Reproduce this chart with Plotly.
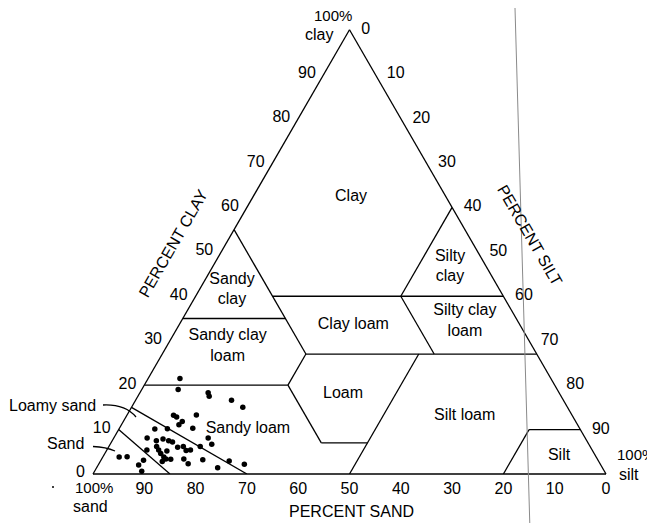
import plotly.graph_objects as go

W, H = 655, 523
OFF = 8  # page body margin offset of the embedded figure
FONT = "Liberation Sans, Arial, Helvetica, sans-serif"
FS = 16

# ---------------- tick labels ----------------
clay_tick_vals = [0, 10, 20, 30, 40, 50, 60, 70, 80, 90]
sand_tick_vals = [90, 80, 70, 60, 50, 40, 30, 20, 10, 0]
silt_tick_vals = [0, 10, 20, 30, 40, 50, 60, 70, 80, 90]

# ---------------- texture-class boundaries (percent sand / percent clay) ----------------
boundary_sand = [[85, 90], [70, 85], [80, 52], [52, 52], [52, 43], [50, 23], [45, 0],
                 [52, 45], [45, 45], [65, 45], [45, 0], [20, 0], [20, 20], [20, 10], [10, 0]]
boundary_clay = [[0, 10], [0, 15], [20, 20], [20, 7], [7, 7], [0, 27], [27, 27],
                 [20, 27], [55, 27], [35, 35], [40, 40], [40, 60], [40, 27], [0, 10], [10, 10]]

# ---------------- texture-class names ----------------
class_names = ["Clay", "Sandy<br>clay", "Silty<br>clay", "Sandy clay<br>loam", "Clay loam",
               "Silty clay<br>loam", "Loam", "Sandy loam", "Silt loam", "Silt"]
class_label_sand = [18.5, 52.2, 7.1, 59.4, 32.5, 10.3, 42.2, 64.7, 21.0, 7.1]
class_label_clay = [62.4, 41.4, 46.6, 28.7, 33.5, 34.4, 18.1, 10.2, 13.1, 4.1]

# ---------------- soil samples (percent sand / percent clay) ----------------
sample_sand = [72.3, 73.9, 68.4, 68.6, 64.7, 63.3, 77.7, 77.3, 73.2, 76.7,
               77.7, 75.4, 80.4, 82.9, 85.4, 82.4, 81.5, 80.9, 73.5, 73.5,
               76.0, 83.9, 84.5, 84.5, 84.5, 84.3, 80.5, 79.3, 79.2, 78.3,
               86.8, 83.0, 84.1, 83.2, 80.6, 80.3, 77.0, 88.6, 93.0, 91.4,
               90.1, 90.2, 75.0, 72.0, 69.4, 85.1]
sample_clay = [21.5, 19.0, 18.3, 17.5, 16.6, 15.0, 13.2, 12.8, 13.3, 11.8,
               11.1, 10.3, 10.2, 10.1, 8.1, 7.9, 7.5, 7.2, 8.1, 6.7,
               6.2, 7.5, 6.2, 5.4, 4.6, 3.8, 6.0, 6.2, 5.3, 5.4,
               5.4, 5.2, 3.4, 3.3, 3.4, 2.3, 3.2, 3.1, 3.8, 3.9,
               2.0, 0.6, 1.4, 2.9, 2.2, 2.8]

fig = go.Figure()

for s_seg, c_seg in zip(boundary_sand, boundary_clay):
    fig.add_trace(go.Scatterternary(
        b=s_seg, a=c_seg, mode="lines",
        line=dict(color="black", width=1.3),
        hoverinfo="skip", showlegend=False))

fig.add_trace(go.Scatterternary(
    b=sample_sand, a=sample_clay, mode="markers",
    marker=dict(color="black", size=5.5, line=dict(width=0)),
    showlegend=False))

fig.add_trace(go.Scatterternary(
    b=class_label_sand, a=class_label_clay, mode="text", text=class_names,
    textfont=dict(family=FONT, size=FS, color="black"),
    hoverinfo="skip", showlegend=False))

# percent-silt tick labels, placed on the right edge (sand = 0)
fig.add_trace(go.Scatterternary(
    b=[0] * len(silt_tick_vals), c=silt_tick_vals, mode="markers+text",
    text=[str(v) for v in silt_tick_vals], textposition="middle right",
    marker=dict(size=17, color="rgba(0,0,0,0)", line=dict(width=0)),
    textfont=dict(family=FONT, size=FS, color="black"),
    cliponaxis=False, hoverinfo="skip", showlegend=False))

axis_common = dict(
    showgrid=False, linecolor="black", linewidth=1.3,
    tickfont=dict(family=FONT, size=FS, color="black"),
    title=dict(text=""), min=0,
)

fig.update_layout(
    width=W, height=H,
    margin=dict(l=0, r=0, t=0, b=0),
    paper_bgcolor="white",
    font=dict(family=FONT, size=FS, color="black"),
    showlegend=False,
    ternary=dict(
        sum=100,
        bgcolor="white",
        domain=dict(x=[(93 - OFF) / W, (606 - OFF) / W],
                    y=[(H - (474 - OFF)) / H, (H - (29.7 - OFF)) / H]),
        aaxis=dict(axis_common, tickmode="array", tickvals=clay_tick_vals,
                   ticktext=[str(v) for v in clay_tick_vals],
                   ticks="outside", ticklen=5, tickcolor="rgba(0,0,0,0)"),
        baxis=dict(axis_common, tickmode="array", tickvals=sand_tick_vals,
                   ticktext=[str(v) for v in sand_tick_vals], ticks=""),
        caxis=dict(axis_common, tickmode="array", tickvals=silt_tick_vals,
                   showticklabels=False, ticks=""),
    ),
)


def px(x, y):
    return (x - OFF) / W, 1 - (y - OFF) / H


def add_text(txt, x, y, angle=0, xanchor="center", size=FS):
    xp, yp = px(x, y)
    fig.add_annotation(x=xp, y=yp, xref="paper", yref="paper", text=txt,
                       showarrow=False, textangle=angle, xanchor=xanchor, yanchor="middle",
                       font=dict(family=FONT, size=size, color="black"))


add_text("100%", 333, 16, size=15)
add_text("clay", 319, 35)
add_text("100%", 93.5, 487, size=15)
add_text("sand", 90, 506)
add_text("100%", 615, 454, xanchor="left", size=15)
add_text("silt", 617, 474, xanchor="left")
add_text("PERCENT CLAY", 173, 243, angle=-60)
add_text("PERCENT SILT", 529, 235, angle=60)
add_text("PERCENT SAND", 351, 511)
add_text("Loamy sand", 52.5, 405)
add_text("Sand", 65.5, 443)


def path_px(pts):
    (x0, y0), (cx, cy), (x1, y1) = pts
    a = px(x0, y0); c = px(cx, cy); b = px(x1, y1)
    return f"M {a[0]},{a[1]} Q {c[0]},{c[1]} {b[0]},{b[1]}"


# leader lines
fig.add_shape(type="path", xref="paper", yref="paper",
              path=path_px([(103, 405), (125, 404), (136, 417)]),
              line=dict(color="black", width=1.3))
fig.add_shape(type="path", xref="paper", yref="paper",
              path=path_px([(93, 446.5), (106, 447), (115, 451)]),
              line=dict(color="black", width=1.3))

# scan artifact: faint vertical line
x0p, y0p = px(515, OFF)
x1p, y1p = px(530, 523 + OFF)
fig.add_shape(type="line", xref="paper", yref="paper", x0=x0p, y0=y0p, x1=x1p, y1=y1p,
              line=dict(color="#8a8a8a", width=1))
# tiny stray dot
cx, cy = px(53, 487)
fig.add_shape(type="circle", xref="paper", yref="paper",
              x0=cx - 1 / W, x1=cx + 1 / W, y0=cy - 1 / H, y1=cy + 1 / H,
              fillcolor="black", line=dict(width=0))

fig.write_html("out.html")
